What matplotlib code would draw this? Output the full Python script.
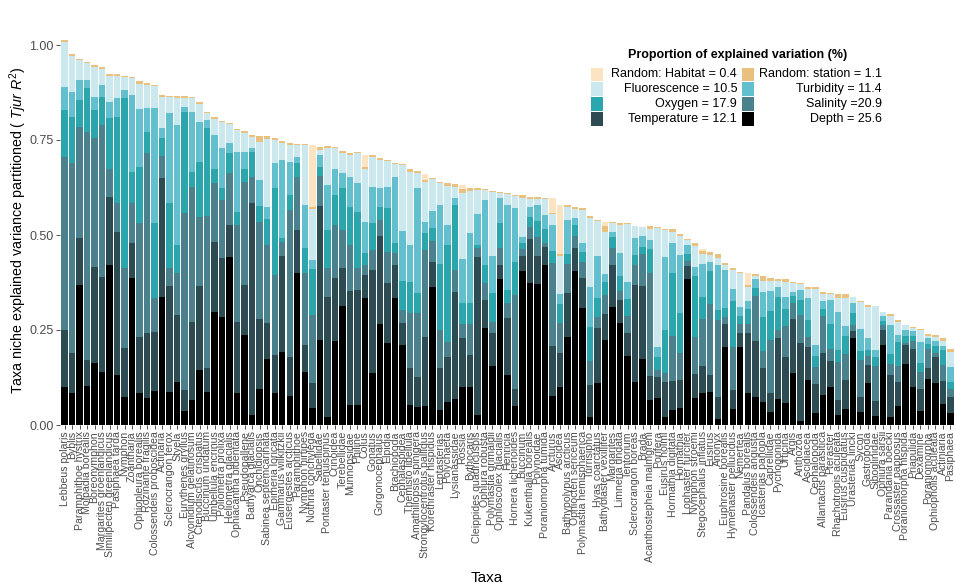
import numpy as np
import matplotlib
matplotlib.use("Agg")
import matplotlib.pyplot as plt
from matplotlib.patches import Rectangle

plt.rcParams['font.family'] = ['Liberation Sans', 'DejaVu Sans']
plt.rcParams['mathtext.fontset'] = 'custom'
plt.rcParams['mathtext.rm'] = 'Liberation Sans'
plt.rcParams['mathtext.it'] = 'Liberation Sans:italic'

taxa = [
    "Lebbeus polaris", "Byblis", "Paramphithoe hystrix", "Molpadia borealis", "Boreonymphon",
    "Margarites groenlandicus", "Similipecten greenlandicus", "Pasiphaea tarda", "Nymphon", "Zoantharia",
    "Ophiopleura borealis", "Rozinante fragilis", "Colossendeis proboscidea", "Actinaria", "Sclerocrangon ferox",
    "Styela", "Eurythenes gryllus", "Alcyonidium gelatinosum", "Ctenodiscus crispatus", "Buccinum undatum",
    "Umbellula encrinus", "Poliometra prolixa", "Heliometra glacialis", "Ophiacantha bidentata", "Pseudopallene",
    "Bathyarca glacialis", "Onchidiopsis", "Sabinea septemcarinata", "Epimeria loricata", "Gammarus wilkitzkii",
    "Eusergestes arcticus", "Paramphithoe", "Nymphon hirtipes", "Nothria conchylega", "Sabellidae",
    "Pontaster tenuispinus", "Crinoidea", "Terebellidae", "Munnopsidae", "Philine",
    "Colus", "Gonatus", "Gorgonocephalus", "Elpidia", "Brachiopoda",
    "Cephalaspidea", "Themisto libellula", "Amathillopsis spinigera", "Strongylocentrotus pallidus", "Korethraster hispidus",
    "Leptasterias", "Polychaeta", "Lysianassidae", "Rossia", "Bythocaris",
    "Cleippides quadricuspis", "Ophiura robusta", "Polymastia grimaldii", "Ophioscolex glacialis", "Henricia",
    "Hornera lichenoides", "Buccinum", "Kukenthalia borealis", "Polynoidae", "Poraniomorpha tumida",
    "Arcturus", "Ascidea", "Bathypolypus arcticus", "Ophiocten sericeum", "Polymastia hemisphaerica",
    "Turrisipho", "Hyas coarctatus", "Bathybiaster vexillifer", "Margarites", "Limneria undata",
    "Tentorium", "Sclerocrangon boreas", "Brada", "Acanthostepheia malmgreni", "Porifera",
    "Eusirus holmi", "Hormathia digitata", "Hormathia", "Lophaster furcifer", "Nymphon stroemi",
    "Stegocephalus inflatus", "Eusirus", "Anonyx", "Euphrosine borealis", "Hymenaster pellucidus",
    "Nemertea", "Pandalus borealis", "Colossendeis angusta", "Icasterias panopla", "Caprellidae",
    "Pycnogonida", "Urticina", "Argis", "Anthozoa", "Ascidiacea",
    "Cephalopoda", "Allantactis parasitica", "Pteraster", "Rhachotropis aculeata", "Eusirus cuspidatus",
    "Urasterias lincki", "Sycon", "Gastropoda", "Siboglinidae", "Ophiura sarsii",
    "Parandania boecki", "Crossaster papposus", "Poraniomorpha hispida", "Priapulida", "Dexamine",
    "Poraniomorpha", "Ophiopholis aculeata", "Actiniaria", "Pasiphaea",
]

depth = [
    0.101, 0.083, 0.368, 0.103, 0.162, 0.140, 0.421, 0.132, 0.075, 0.386,
    0.085, 0.070, 0.090, 0.338, 0.088, 0.114, 0.038, 0.066, 0.145, 0.088,
    0.298, 0.285, 0.443, 0.083, 0.237, 0.026, 0.096, 0.175, 0.083, 0.193,
    0.076, 0.399, 0.140, 0.044, 0.225, 0.022, 0.222, 0.313, 0.053, 0.053,
    0.333, 0.138, 0.266, 0.217, 0.333, 0.211, 0.053, 0.048, 0.050, 0.362,
    0.039, 0.061, 0.068, 0.101, 0.101, 0.026, 0.254, 0.155, 0.383, 0.132,
    0.050, 0.404, 0.373, 0.371, 0.421, 0.076, 0.101, 0.232, 0.406, 0.307,
    0.020, 0.111, 0.225, 0.310, 0.268, 0.182, 0.114, 0.173, 0.066, 0.070,
    0.022, 0.039, 0.044, 0.383, 0.070, 0.085, 0.088, 0.015, 0.206, 0.041,
    0.206, 0.083, 0.073, 0.061, 0.035, 0.068, 0.057, 0.138, 0.011, 0.118,
    0.032, 0.079, 0.099, 0.026, 0.041, 0.228, 0.035, 0.111, 0.024, 0.211,
    0.020, 0.050, 0.161, 0.099, 0.038, 0.120, 0.111, 0.055, 0.032,
]

temperature = [
    0.149, 0.106, 0.123, 0.068, 0.255, 0.250, 0.180, 0.377, 0.127, 0.092,
    0.147, 0.171, 0.156, 0.311, 0.278, 0.175, 0.054, 0.206, 0.221, 0.061,
    0.184, 0.154, 0.083, 0.189, 0.131, 0.557, 0.182, 0.093, 0.101, 0.252,
    0.104, 0.114, 0.071, 0.066, 0.351, 0.316, 0.164, 0.099, 0.300, 0.302,
    0.062, 0.270, 0.232, 0.156, 0.088, 0.057, 0.096, 0.079, 0.182, 0.068,
    0.110, 0.117, 0.283, 0.127, 0.083, 0.417, 0.075, 0.088, 0.038, 0.149,
    0.046, 0.041, 0.116, 0.074, 0.048, 0.132, 0.089, 0.116, 0.059, 0.079,
    0.085, 0.143, 0.068, 0.111, 0.060, 0.061, 0.254, 0.193, 0.063, 0.057,
    0.092, 0.077, 0.075, 0.035, 0.064, 0.070, 0.044, 0.058, 0.060, 0.051,
    0.035, 0.158, 0.149, 0.090, 0.050, 0.161, 0.123, 0.140, 0.205, 0.088,
    0.077, 0.111, 0.070, 0.039, 0.077, 0.020, 0.039, 0.046, 0.038, 0.039,
    0.111, 0.064, 0.050, 0.100, 0.056, 0.029, 0.067, 0.061, 0.042,
]

salinity = [
    0.456, 0.500, 0.294, 0.601, 0.337, 0.399, 0.074, 0.074, 0.210, 0.105,
    0.299, 0.474, 0.087, 0.059, 0.046, 0.112, 0.465, 0.355, 0.182, 0.400,
    0.154, 0.153, 0.136, 0.254, 0.272, 0.069, 0.257, 0.206, 0.211, 0.037,
    0.386, 0.139, 0.188, 0.179, 0.078, 0.074, 0.140, 0.101, 0.120, 0.057,
    0.026, 0.053, 0.042, 0.083, 0.031, 0.035, 0.145, 0.167, 0.228, 0.053,
    0.101, 0.041, 0.057, 0.039, 0.083, 0.022, 0.044, 0.029, 0.044, 0.039,
    0.246, 0.018, 0.033, 0.051, 0.011, 0.218, 0.079, 0.077, 0.032, 0.044,
    0.063, 0.031, 0.048, 0.044, 0.024, 0.044, 0.053, 0.084, 0.270, 0.019,
    0.024, 0.118, 0.070, 0.014, 0.098, 0.125, 0.187, 0.204, 0.018, 0.112,
    0.026, 0.026, 0.118, 0.044, 0.139, 0.022, 0.081, 0.044, 0.073, 0.026,
    0.044, 0.096, 0.030, 0.101, 0.070, 0.015, 0.096, 0.024, 0.092, 0.013,
    0.029, 0.041, 0.006, 0.023, 0.046, 0.050, 0.011, 0.041, 0.022,
]

oxygen = [
    0.123, 0.122, 0.070, 0.114, 0.075, 0.075, 0.132, 0.228, 0.448, 0.084,
    0.149, 0.057, 0.198, 0.046, 0.171, 0.073, 0.268, 0.040, 0.145, 0.233,
    0.039, 0.031, 0.053, 0.035, 0.035, 0.066, 0.041, 0.068, 0.228, 0.009,
    0.039, 0.037, 0.066, 0.121, 0.026, 0.101, 0.079, 0.110, 0.100, 0.149,
    0.031, 0.070, 0.035, 0.114, 0.026, 0.075, 0.083, 0.053, 0.044, 0.035,
    0.175, 0.254, 0.171, 0.053, 0.053, 0.010, 0.048, 0.075, 0.066, 0.035,
    0.088, 0.016, 0.026, 0.042, 0.035, 0.031, 0.049, 0.026, 0.029, 0.026,
    0.090, 0.048, 0.035, 0.029, 0.039, 0.044, 0.026, 0.019, 0.064, 0.033,
    0.112, 0.165, 0.105, 0.019, 0.160, 0.057, 0.085, 0.025, 0.024, 0.123,
    0.019, 0.037, 0.020, 0.088, 0.075, 0.086, 0.044, 0.018, 0.039, 0.044,
    0.028, 0.018, 0.068, 0.031, 0.046, 0.031, 0.026, 0.016, 0.025, 0.011,
    0.028, 0.064, 0.018, 0.012, 0.022, 0.014, 0.019, 0.041, 0.018,
]

turbidity = [
    0.061, 0.066, 0.053, 0.022, 0.035, 0.031, 0.044, 0.049, 0.022, 0.201,
    0.151, 0.061, 0.302, 0.027, 0.237, 0.315, 0.011, 0.158, 0.105, 0.020,
    0.088, 0.105, 0.026, 0.158, 0.044, 0.010, 0.069, 0.031, 0.066, 0.206,
    0.088, 0.015, 0.114, 0.024, 0.031, 0.119, 0.070, 0.041, 0.080, 0.075,
    0.083, 0.096, 0.048, 0.057, 0.175, 0.132, 0.096, 0.276, 0.031, 0.044,
    0.154, 0.053, 0.018, 0.118, 0.184, 0.080, 0.171, 0.098, 0.066, 0.224,
    0.140, 0.016, 0.026, 0.041, 0.038, 0.068, 0.028, 0.089, 0.018, 0.022,
    0.105, 0.111, 0.022, 0.015, 0.061, 0.046, 0.044, 0.028, 0.023, 0.026,
    0.193, 0.081, 0.154, 0.022, 0.025, 0.088, 0.024, 0.120, 0.099, 0.032,
    0.025, 0.023, 0.024, 0.068, 0.053, 0.026, 0.032, 0.011, 0.026, 0.057,
    0.029, 0.023, 0.063, 0.101, 0.026, 0.028, 0.057, 0.033, 0.019, 0.012,
    0.075, 0.018, 0.016, 0.014, 0.057, 0.015, 0.014, 0.011, 0.038,
]

fluorescence = [
    0.119, 0.094, 0.053, 0.045, 0.079, 0.042, 0.068, 0.058, 0.033, 0.046,
    0.066, 0.062, 0.060, 0.081, 0.043, 0.072, 0.025, 0.035, 0.047, 0.018,
    0.043, 0.069, 0.051, 0.057, 0.050, 0.029, 0.101, 0.179, 0.061, 0.046,
    0.044, 0.033, 0.158, 0.134, 0.014, 0.096, 0.053, 0.053, 0.058, 0.079,
    0.138, 0.077, 0.075, 0.068, 0.035, 0.175, 0.193, 0.041, 0.105, 0.085,
    0.059, 0.104, 0.029, 0.173, 0.112, 0.063, 0.026, 0.169, 0.013, 0.029,
    0.032, 0.103, 0.022, 0.016, 0.041, 0.029, 0.100, 0.035, 0.025, 0.089,
    0.182, 0.092, 0.110, 0.022, 0.075, 0.152, 0.032, 0.023, 0.030, 0.314,
    0.070, 0.028, 0.050, 0.015, 0.053, 0.026, 0.020, 0.018, 0.015, 0.050,
    0.089, 0.037, 0.009, 0.029, 0.026, 0.015, 0.039, 0.024, 0.018, 0.024,
    0.149, 0.019, 0.014, 0.035, 0.075, 0.016, 0.070, 0.081, 0.114, 0.011,
    0.024, 0.035, 0.011, 0.006, 0.032, 0.006, 0.009, 0.013, 0.041,
]

random_station = [
    0.004, 0.005, 0.003, 0.003, 0.004, 0.004, 0.005, 0.006, 0.003, 0.003,
    0.009, 0.004, 0.003, 0.006, 0.003, 0.005, 0.005, 0.004, 0.006, 0.004,
    0.004, 0.004, 0.004, 0.004, 0.004, 0.006, 0.015, 0.009, 0.004, 0.005,
    0.004, 0.002, 0.002, 0.005, 0.007, 0.006, 0.004, 0.004, 0.004, 0.004,
    0.007, 0.006, 0.004, 0.003, 0.002, 0.002, 0.009, 0.005, 0.006, 0.003,
    0.002, 0.006, 0.008, 0.009, 0.009, 0.007, 0.002, 0.002, 0.003, 0.002,
    0.003, 0.006, 0.004, 0.004, 0.003, 0.004, 0.004, 0.003, 0.004, 0.003,
    0.006, 0.004, 0.015, 0.004, 0.004, 0.002, 0.002, 0.002, 0.007, 0.002,
    0.004, 0.007, 0.005, 0.002, 0.009, 0.007, 0.006, 0.011, 0.004, 0.005,
    0.002, 0.004, 0.005, 0.012, 0.009, 0.006, 0.007, 0.002, 0.003, 0.005,
    0.003, 0.004, 0.004, 0.011, 0.009, 0.000, 0.004, 0.004, 0.002, 0.000,
    0.005, 0.004, 0.002, 0.004, 0.002, 0.005, 0.006, 0.007, 0.006,
]

random_habitat = [
    0.000, 0.000, 0.000, 0.000, 0.000, 0.000, 0.000, 0.000, 0.000, 0.000,
    0.000, 0.000, 0.000, 0.000, 0.000, 0.000, 0.000, 0.000, 0.000, 0.000,
    0.000, 0.000, 0.000, 0.000, 0.000, 0.000, 0.000, 0.000, 0.000, 0.000,
    0.000, 0.000, 0.000, 0.164, 0.000, 0.000, 0.000, 0.000, 0.000, 0.000,
    0.031, 0.000, 0.000, 0.000, 0.000, 0.000, 0.000, 0.000, 0.014, 0.000,
    0.000, 0.000, 0.000, 0.011, 0.000, 0.000, 0.000, 0.000, 0.000, 0.000,
    0.000, 0.000, 0.000, 0.000, 0.000, 0.039, 0.128, 0.000, 0.000, 0.000,
    0.000, 0.000, 0.011, 0.000, 0.000, 0.000, 0.000, 0.000, 0.000, 0.000,
    0.000, 0.000, 0.000, 0.000, 0.000, 0.006, 0.000, 0.000, 0.000, 0.000,
    0.000, 0.032, 0.000, 0.000, 0.000, 0.000, 0.000, 0.000, 0.000, 0.000,
    0.000, 0.000, 0.000, 0.000, 0.000, 0.000, 0.000, 0.000, 0.000, 0.000,
    0.000, 0.000, 0.000, 0.000, 0.000, 0.000, 0.000, 0.000, 0.000,
]

# stacking order, bottom to top
layers = [
    (depth, "#000000", "Depth = 25.6"),
    (temperature, "#2D4B52", "Temperature = 12.1"),
    (salinity, "#4A818C", "Salinity =20.9"),
    (oxygen, "#2AA6AC", "Oxygen = 17.9"),
    (turbidity, "#62C0CE", "Turbidity = 11.4"),
    (fluorescence, "#CBE8EE", "Fluorescence = 10.5"),
    (random_station, "#E9C07E", "Random: station = 1.1"),
    (random_habitat, "#FCE3C1", "Random: Habitat = 0.4"),
]

W, H = 955, 587
fig = plt.figure(figsize=(W / 100, H / 100), dpi=100)
y0_px, unit_px = 425, 380.0
ymax = 1.02
ax = fig.add_axes([60 / W, (H - y0_px) / H, (955 - 60) / W, ymax * unit_px / H])

x = np.arange(len(taxa))
bottom = np.zeros(len(taxa))
for vals, col, _ in layers:
    v = np.asarray(vals)
    ax.bar(x, v, bottom=bottom, width=0.86, color=col, linewidth=0)
    bottom += v

ax.set_xlim(-0.6, len(taxa) - 0.4)
ax.set_ylim(0, ymax)
ax.set_yticks([0, 0.25, 0.5, 0.75, 1.0])
ax.set_yticklabels(["0.00", "0.25", "0.50", "0.75", "1.00"], fontsize=9, color="#4D4D4D")
ax.set_xticks(x)
ax.set_xticklabels(taxa, rotation=90, fontsize=7.6, color="#4D4D4D")
for s in ax.spines.values():
    s.set_visible(False)
ax.tick_params(axis="both", length=3, width=0.6, color="#333333", pad=1.5)


def fx(px):
    return px / W


def fy(py):
    return 1 - py / H


fig.text(fx(18), fy(230), r"Taxa niche explained variance partitioned ( $\it{Tjur\ R^2}$)",
         rotation=90, ha="center", va="center", fontsize=10.3)
fig.text(fx(487), fy(578), "Taxa", ha="center", va="center", fontsize=11)

# legend: two columns, labels right-aligned before each key
fig.text(fx(628), fy(55), "Proportion of explained variation (%)", fontsize=9,
         fontweight="bold", ha="left", va="center")
legend_cols = [
    [layers[7], layers[5], layers[3], layers[1]],
    [layers[6], layers[4], layers[2], layers[0]],
]
box_left = [591, 742]
text_right = [737, 882]
row_y = [74, 89, 104, 119]
for ci, col_entries in enumerate(legend_cols):
    for ri, (_, color, label) in enumerate(col_entries):
        cy = row_y[ri]
        fig.patches.append(Rectangle((fx(box_left[ci]), fy(cy + 6.5)), 12 / W, 13 / H,
                                     transform=fig.transFigure, facecolor=color,
                                     edgecolor="none", figure=fig))
        fig.text(fx(text_right[ci]), fy(cy), label, fontsize=9, ha="right", va="center")

fig.savefig("out.png", dpi=100)
